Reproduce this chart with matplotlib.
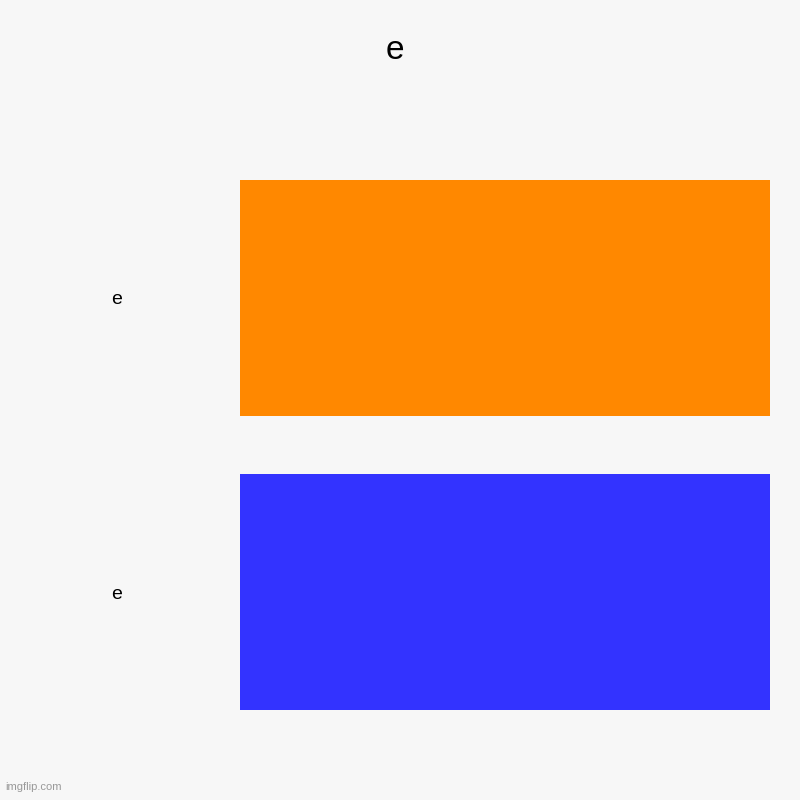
import matplotlib.pyplot as plt

plt.rcParams['font.family'] = ['Liberation Sans', 'DejaVu Sans']

labels = ['e', 'e']
values = [1, 1]
colors = ['#ff8800', '#3333ff']
title = 'e'

fig = plt.figure(figsize=(8, 8), dpi=100, facecolor='#f7f7f7')
ax = fig.add_axes([0.3, 0.0756, 0.6625, 0.73625])
ax.set_facecolor('#f7f7f7')

pos = list(range(len(labels)))
ax.barh(pos, values, height=0.8, color=colors)
ax.set_xlim(0, max(values))
ax.set_ylim(len(labels) - 0.5, -0.5)
ax.set_yticks(pos)
ax.set_yticklabels(labels, fontsize=14, ha='center', va='center_baseline')
ax.tick_params(axis='y', length=0, pad=89)
ax.set_xticks([])
for s in ax.spines.values():
    s.set_visible(False)

fig.text(0.494, 0.937, title, fontsize=24, ha='center', va='center')
fig.text(0.006, 0.01, 'imgflip.com', fontsize=8, color='#999999', ha='left', va='bottom')

fig.savefig('out.png', dpi=100, facecolor=fig.get_facecolor())
